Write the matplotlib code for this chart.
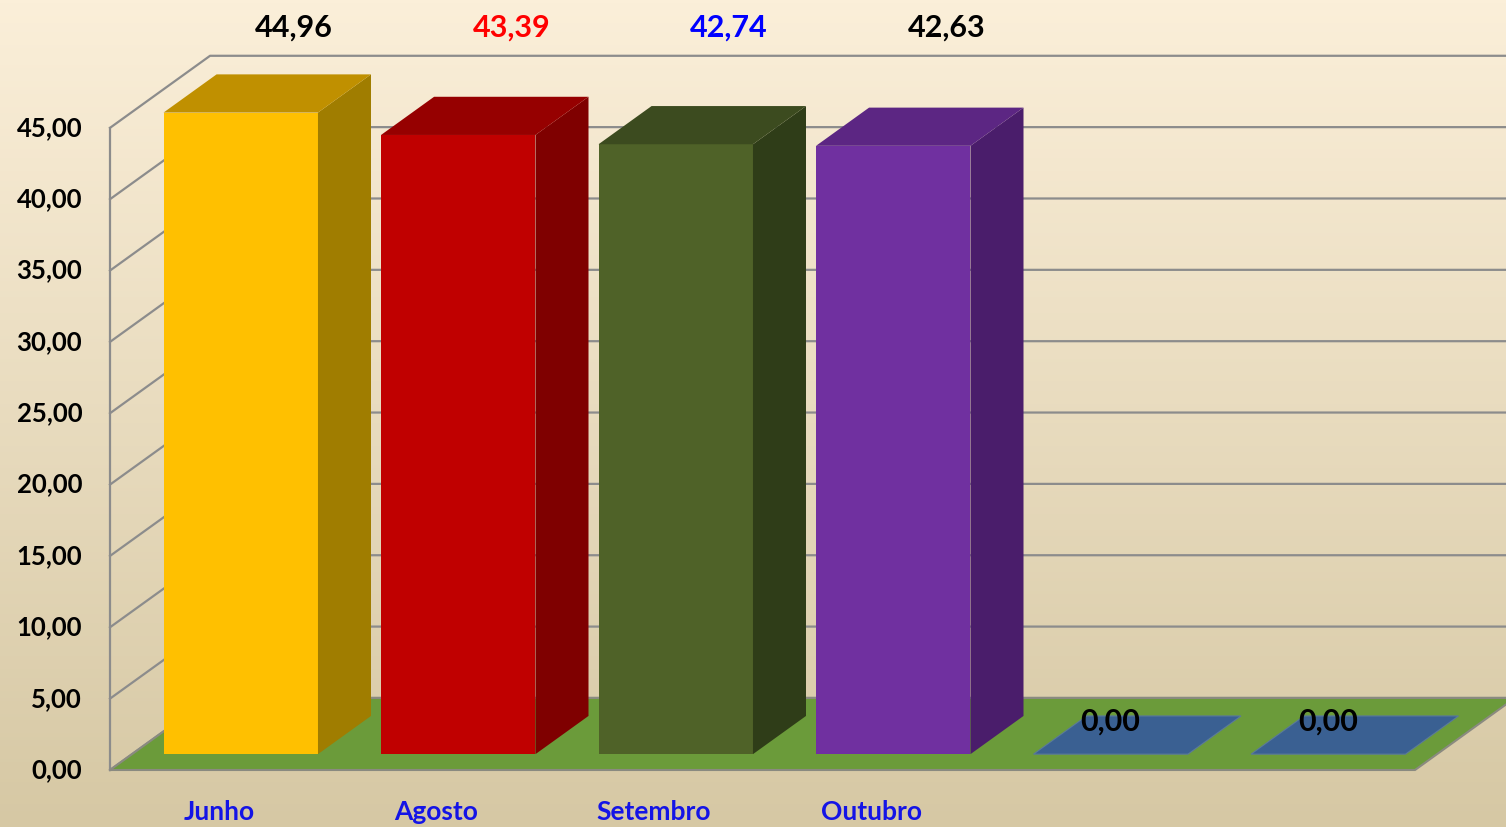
import matplotlib.pyplot as plt
import numpy as np
from matplotlib.patches import Polygon

# data
meses = ['Junho', 'Agosto', 'Setembro', 'Outubro', '', '']
valores = [44.96, 43.39, 42.74, 42.63, 0.00, 0.00]
rotulos_cor = ['black', 'red', 'blue', 'black', 'black', 'black']
frente = ['#FFC000', '#C00000', '#4F6228', '#7030A0', '#3A6092', '#3A6092']
lado = ['#A07D00', '#7F0000', '#2F3D18', '#4A1D6B', '#2C4A72', '#2C4A72']
topo = ['#C09000', '#960000', '#3C4B1F', '#5C2683', '#3A6092', '#3A6092']
yticks = np.arange(0, 50, 5)

# fake 3d: depth vector in data units (x slots, y values)
DX, DY = 0.46, 5.05
T0, T1 = 0.22, 0.75   # bar front / back depth
LARG = 0.71

fig = plt.figure(figsize=(15.06, 8.27), dpi=100)
ax = fig.add_axes([0, 0, 1, 1])
xmin, xmax = -110 / 217.5, (1506 - 110) / 217.5
ymin, ymax = -57 / 14.27, 770 / 14.27
ax.set_xlim(xmin, xmax)
ax.set_ylim(ymin, ymax)
ax.axis('off')

# background gradient
grad = np.linspace(0, 1, 256)[:, None]
c_top = np.array([251, 239, 217]) / 255
c_bot = np.array([214, 200, 164]) / 255
img = c_top + (c_bot - c_top) * grad[..., None]
ax.imshow(img, extent=[xmin, xmax, ymin, ymax], aspect='auto', zorder=0)

n = len(meses)
grid = '#8C8C8C'

# back wall + left wall gridlines
for v in yticks:
    ax.plot([0, DX, xmax], [v, v + DY, v + DY], color=grid, lw=1.6, zorder=1)
ax.plot([0, 0], [0, yticks[-1]], color=grid, lw=1.6, zorder=1)

# floor
piso = Polygon([(0, 0), (n, 0), (n + DX, DY), (DX, DY)], closed=True,
               facecolor='#6B9B3A', edgecolor='#8A8A80', lw=1.5, zorder=2)
ax.add_patch(piso)

# bars
for i, v in enumerate(valores):
    x0 = i + (1 - LARG) / 2 + T0 * DX
    y0 = T0 * DY
    x1 = x0 + LARG
    ddx, ddy = (T1 - T0) * DX, (T1 - T0) * DY
    if v > 0:
        ax.add_patch(Polygon([(x0, y0), (x1, y0), (x1, y0 + v), (x0, y0 + v)],
                             facecolor=frente[i], lw=0, zorder=3))
        ax.add_patch(Polygon([(x1, y0), (x1 + ddx, y0 + ddy), (x1 + ddx, y0 + ddy + v), (x1, y0 + v)],
                             facecolor=lado[i], lw=0, zorder=3))
    ax.add_patch(Polygon([(x0, y0 + v), (x1, y0 + v), (x1 + ddx, y0 + ddy + v), (x0 + ddx, y0 + ddy + v)],
                         facecolor=topo[i], edgecolor='#5A7A9A' if v == 0 else 'none', lw=0.8, zorder=3))
    rot = f'{v:.2f}'.replace('.', ',')
    if v > 0:
        ax.text(x0 + LARG / 2 + ddx, 52.0, rot, ha='center', va='center', fontsize=22,
                fontweight='bold', family='Lato', color=rotulos_cor[i], zorder=5)
    else:
        ax.text(i + 0.6, y0 + 0.85 * ddy, rot, ha='center', va='center', fontsize=22,
                fontweight='bold', family='Lato', color=rotulos_cor[i], zorder=5)
    if meses[i]:
        ax.text(i + 0.5, -2.95, meses[i], ha='center', va='center', fontsize=19,
                fontweight='bold', family='Lato', color='#1414E6', zorder=5)

# y tick labels
for v in yticks:
    ax.text(-0.128, v, f'{v:.2f}'.replace('.', ','), ha='right', va='center', fontsize=18.5,
            fontweight='bold', family='Lato', color='black', zorder=5)

fig.savefig('out.png', dpi=100)
